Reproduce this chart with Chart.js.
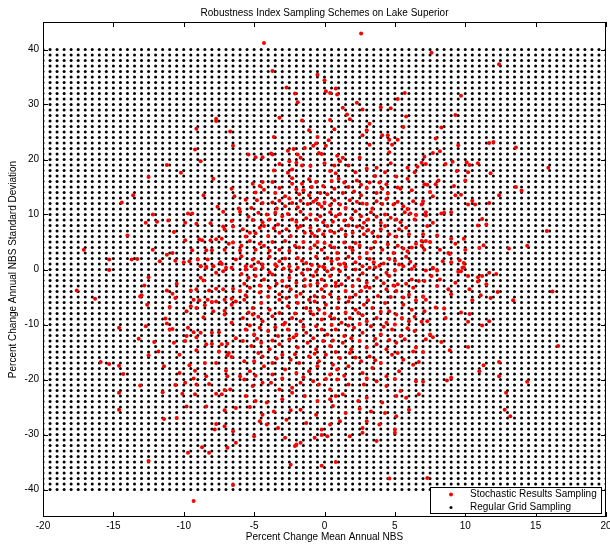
<!DOCTYPE html>
<html>
<head>
<meta charset="utf-8">
<title>Robustness Index Sampling Schemes on Lake Superior</title>
<script src="https://cdn.jsdelivr.net/npm/chart.js@4/dist/chart.umd.min.js"></script>
<style>
  html, body { margin: 0; padding: 0; background: #fff; }
  #plot { display: block; }
</style>
</head>
<body>
<canvas id="plot" width="610" height="544"></canvas>
<script>
/* ── DATOS ── */
const X_TICKS = [-20, -15, -10, -5, 0, 5, 10, 15, 20];
const Y_TICKS = [-40, -30, -20, -10, 0, 10, 20, 30, 40];

// regular grid sampling: columns every 0.5, rows every 1
const GRID_X = [
  -20, -19.5, -19, -18.5, -18, -17.5, -17, -16.5, -16, -15.5, -15, -14.5, -14, -13.5, -13, -12.5,
  -12, -11.5, -11, -10.5, -10, -9.5, -9, -8.5, -8, -7.5, -7, -6.5, -6, -5.5, -5, -4.5, -4, -3.5,
  -3, -2.5, -2, -1.5, -1, -0.5, 0, 0.5, 1, 1.5, 2, 2.5, 3, 3.5, 4, 4.5, 5, 5.5, 6, 6.5, 7, 7.5,
  8, 8.5, 9, 9.5, 10, 10.5, 11, 11.5, 12, 12.5, 13, 13.5, 14, 14.5, 15, 15.5, 16, 16.5, 17, 17.5,
  18, 18.5, 19, 19.5, 20
];
const GRID_Y = [
  -40, -39, -38, -37, -36, -35, -34, -33, -32, -31, -30, -29, -28, -27, -26, -25, -24, -23, -22, -21,
  -20, -19, -18, -17, -16, -15, -14, -13, -12, -11, -10, -9, -8, -7, -6, -5, -4, -3, -2, -1,
  0, 1, 2, 3, 4, 5, 6, 7, 8, 9, 10, 11, 12, 13, 14, 15, 16, 17, 18, 19,
  20, 21, 22, 23, 24, 25, 26, 27, 28, 29, 30, 31, 32, 33, 34, 35, 36, 37, 38, 39, 40
];

// stochastic results (x = % change mean annual NBS, y = % change std dev)
const STOCH_UPPER_LEFT = [
  [-7.7,27.4],[-7.7,27.0],[-9.1,25.6],[-9.2,21.8],[-8.8,19.7],[-11.2,19.0],
  [-10.2,17.6],[-12.5,16.8],[-7.9,16.5],[-13.6,13.5],[-8.6,13.5],[-14.4,12.2],
  [-7.6,11.4],[-6.1,11.1],[-12.2,10.0],[-9.7,10.2],[-9.4,10.2],[-7.2,10.5],[-12.7,8.5],
  [-11.9,8.7],[-11.1,8.9],[-9.9,8.5],[-9.1,8.3],[-8.1,8.4],[-7.2,7.8],[-7.1,7.3],[-6.5,7.8],
  [-10.7,6.8],[-14.0,6.2],[-9.9,5.3],[-8.9,5.5],[-8.7,5.3],[-8.1,5.3],[-7.7,5.5],[-7.3,5.6],
  [-6.8,4.7],[-17.1,3.6],[-12.2,3.6],[-10.8,3.0],[-11.2,2.7],[-9.4,3.5],[-8.4,3.5],
  [-8.0,3.5],[-7.1,3.6],[-15.3,1.8],[-13.7,1.8],[-13.3,1.9],[-11.7,1.5],[-10.6,1.6],
  [-10.0,1.3],[-9.6,1.5],[-9.0,1.8],[-8.3,1.8],[-7.4,1.3],[-7.3,1.0],[-8.8,0.6],
  [-8.4,0.5],[-7.9,0.6],[-7.0,0.3]
];
const STOCH_UPPER_MID = [
  [2.6,42.9],[-4.3,41.2],[-3.7,36.1],[-0.5,35.4],[0.0,34.4],[-2.7,33.1],[0.1,32.4],[0.4,32.1],
  [0.8,32.9],[0.9,31.8],[-2.1,32.0],[-1.9,30.4],[5.7,32.1],[5.2,31.0],[2.3,30.3],[2.7,29.1],
  [4.0,29.5],[4.7,29.3],[1.3,29.4],[1.6,28.2],[-3.2,27.6],[-1.6,27.1],[0.4,27.2],[1.8,27.3],
  [3.2,26.5],[5.8,27.8],[5.6,25.9],[0.7,25.5],[-1.1,25.3],[-6.7,25.1],[3.0,25.3],[2.7,24.4],
  [4.1,24.4],[4.5,24.4],[4.6,23.6],[5.2,23.6],[-3.6,24.1],[-0.5,24.1],[0.3,23.5],[-0.6,22.9],
  [-0.8,22.5],[0.1,22.5],[-6.5,22.5],[3.2,22.7],[4.8,22.7],[-2.2,21.9],[-1.4,22.1],[-2.6,21.6],
  [4.6,21.3],[-3.8,21.1],[-3.7,20.9],[-5.4,20.9],[-4.9,20.4],[-4.4,20.4],[-0.4,21.2],[-0.2,21.0],
  [-1.9,20.9],[-1.7,20.3],[0.9,20.7],[1.3,20.3],[-3.2,19.2],[-2.5,19.7],[-2.0,19.4],
  [-1.6,18.9],[-1.0,18.8],[0.0,19.3],[0.7,18.9],[1.1,19.7],[1.7,18.9],[2.5,20.3],[3.0,18.3],
  [3.7,18.5],[4.7,19.3],[5.9,18.5],[6.6,18.7],[-3.6,18.0],[-2.3,18.2],[-2.6,17.6],
  [0.4,17.9],[0.8,17.5],[2.2,17.7],[4.3,17.7],[6.4,17.7],[-2.3,16.6],[-2.3,15.6],[-1.6,15.6],
  [-5.1,15.6],[-4.4,15.9],[-3.7,15.9],[-1.1,16.4],[-0.6,15.9],[0.5,16.1],[1.0,16.5],[1.4,15.8],
  [2.3,16.2],[3.2,15.8],[3.6,17.0],[3.9,15.8],[5.1,16.9],[5.9,16.5],[-6.6,14.7],
  [-6.4,13.3],[-5.6,12.7],[-4.9,14.0],[-4.3,14.5],[-3.5,13.9],[-2.8,13.3],[-1.8,13.7],[-1.5,14.4],
  [-1.1,13.5],[-0.6,12.7],[-0.3,13.9],[0.2,13.7],[0.7,14.7],[1.3,13.9],[2.1,14.2],[2.6,13.5],
  [3.0,14.8],[3.7,13.9],[4.1,14.7],[4.5,13.8],[5.4,14.7],[6.2,14.4],[-4.4,12.1],
  [-3.7,12.2],[-3.2,12.5],[-2.8,11.5],[-2.3,12.1],[-1.7,12.5],[-1.2,11.9],[-0.4,11.9],[-0.2,11.4],
  [0.0,12.2],[0.4,11.7],[1.1,11.8],[1.8,12.6],[2.3,12.3],[3.0,11.9],[3.7,12.4],[4.1,11.9],
  [4.9,11.8],[5.6,11.5],[6.3,12.4],[-6.0,10.5],[-5.4,9.6],[-4.7,10.3],[-4.1,10.0],
  [-3.9,9.1],[-3.3,8.2],[-3.0,9.7],[-2.3,9.1],[-1.7,10.5],[-1.0,10.0],[-0.6,9.1],[-0.3,9.7],
  [0.4,10.4],[0.8,9.7],[1.4,8.9],[2.2,10.6],[2.6,9.7],[2.8,8.5],[3.3,10.4],[3.7,9.6],
  [4.3,10.0],[5.1,9.1],[5.7,10.4],[6.4,9.1],[6.5,9.9],[-6.6,8.8],[-5.8,7.3],
  [-5.3,6.7],[-4.6,7.6],[-4.0,6.1],[-3.2,6.7],[-2.7,7.3],[-1.9,7.6],[-1.4,6.7],[-1.0,7.6],
  [-0.7,6.1],[-0.4,7.2],[0.2,7.9],[0.7,6.7],[1.2,7.3],[1.7,8.0],[2.0,6.7],[2.7,7.6],
  [2.8,6.4],[3.4,6.7],[4.0,7.3],[4.6,6.4],[5.3,7.3],[6.0,6.4],
  [-6.5,4.9],[-5.9,4.3],[-5.3,5.2],[-4.9,3.6],[-4.3,4.3],[-3.7,5.0],[-3.2,3.6],[-2.8,5.2],
  [-2.1,4.3],[-1.5,5.0],[-1.0,3.8],[-0.5,5.0],[-0.2,3.6],[0.4,4.3],[0.9,3.0],[1.4,4.9],
  [2.0,3.5],[2.5,4.3],[3.0,3.0],[3.6,5.0],[4.1,3.6],[4.9,3.0],[5.2,4.3],[5.9,3.3],
  [6.5,4.7],[-6.3,1.8],[-5.6,0.6],[-5.1,1.8],[-4.4,0.9],[-3.9,2.3],[-3.2,1.5],
  [-2.5,0.6],[-1.9,2.1],[-1.3,1.2],[-0.6,2.3],[-0.1,0.5],[0.5,1.5],[1.1,0.9],[1.7,2.3],
  [2.2,1.3],[2.7,0.6],[3.2,1.9],[3.9,0.7],[4.6,1.9],[5.3,0.9],[5.8,2.3],[6.4,0.6]
];
const STOCH_UPPER_CORE = [
  [-5.9,2.4],[-4.7,1.3],[-3.5,0.9],[-2.8,2.0],[-1.6,1.6],[-0.9,0.8],[0.2,2.1],[0.9,1.9],
  [1.4,1.1],[2.5,2.2],[3.5,1.3],[4.2,1.1],[5.0,1.6],[6.1,1.4],
  [-6.0,3.5],[-4.6,4.7],[-3.9,3.4],[-2.5,3.4],[-1.8,4.0],[-0.7,4.4],[0.0,4.8],[0.7,4.0],
  [1.8,4.0],[2.2,4.8],[3.3,3.8],[4.5,4.6],[5.6,3.8],[6.2,4.0],
  [-5.6,6.0],[-4.9,6.6],[-4.3,7.9],[-3.6,7.5],[-2.4,6.1],[-1.7,7.9],[-0.9,6.6],[-0.1,6.4],
  [0.4,7.0],[1.5,6.3],[2.3,7.8],[3.1,7.2],[3.8,6.0],[4.3,7.9],[5.1,6.0],[5.8,7.6],
  [-5.1,9.0],[-4.4,8.6],[-3.5,10.3],[-2.6,10.1],[-2.0,8.7],[-1.3,9.3],[-0.1,8.6],[0.6,8.7],
  [1.1,10.1],[1.9,9.3],[3.1,9.1],[4.0,8.5],[4.7,9.4],[5.4,8.6],[6.1,10.2],
  [-5.2,11.2],[-4.8,12.6],[-3.4,11.1],[-2.5,12.9],[-1.9,11.3],[-0.8,12.3],[0.7,12.6],[1.5,11.2],
  [2.7,12.0],[3.4,11.1],[4.4,12.8],[5.2,12.3],[5.9,11.0],
  [-4.6,15.2],[-3.2,14.8],[-2.0,14.6],[-0.9,15.0],[-0.1,15.2],[1.7,15.0],[2.6,15.4],[4.4,15.5],[5.2,14.9]
];
const STOCH_UPPER_RIGHT = [
  [7.6,39.4],[12.4,37.3],[9.7,31.6],[9.3,28.1],[8.3,25.8],[7.9,23.8],[9.5,22.6],[11.7,23.0],
  [12.0,23.2],[13.6,22.2],[7.7,21.2],[8.2,21.5],[7.1,20.5],[6.9,19.4],[7.2,19.2],[8.6,19.2],
  [9.1,19.6],[10.1,19.5],[10.3,19.0],[10.9,19.3],[15.9,18.5],[9.4,17.9],[10.2,17.7],[11.8,17.5],
  [8.1,16.2],[10.0,16.2],[7.1,15.5],[7.3,15.4],[7.9,15.5],[9.2,15.2],[13.6,15.0],[14.0,14.3],
  [7.5,14.1],[9.3,13.5],[9.7,13.6],[12.4,13.5],[7.7,13.3],[7.0,12.4],[6.9,11.8],[10.5,12.5],
  [10.2,11.8],[10.7,11.8],[11.7,12.1],[7.2,10.4],[7.2,9.8],[8.3,10.2],[8.5,10.3],[9.0,10.4],
  [11.2,9.2],[11.5,8.2],[10.9,8.0],[7.7,8.5],[7.3,7.9],[15.8,7.0],[7.0,6.4],[8.0,6.2],
  [9.0,5.6],[9.9,5.6],[6.9,5.2],[7.2,5.2],[7.5,5.0],[9.3,4.7],[11.3,4.4],[11.0,3.9],
  [10.0,3.6],[13.1,3.8],[14.4,4.3],[7.1,3.6],[6.9,4.3],[8.2,3.6],[8.8,3.0],[8.9,2.8],
  [8.4,1.5],[9.0,1.3],[9.6,1.7],[9.9,1.2],[7.7,0.3],[9.8,0.3]
];
const STOCH_LOWER_LEFT = [
  [-15.3,-0.1],[-12.5,-1.4],[-17.6,-3.8],[-12.8,-2.9],[-13.1,-4.9],[-13.0,-4.7],[-16.3,-5.3],[-12.6,-6.4],
  [-11.2,-3.8],[-10.5,-2.6],[-10.8,-4.4],[-10.6,-5.2],[-11.0,-6.8],[-9.5,-3.8],[-9.1,-3.6],[-8.8,-1.5],
  [-8.6,-2.0],[-8.4,0.3],[-8.8,0.6],[-7.9,0.6],[-7.2,-0.3],[-6.6,0.3],[-7.7,-0.6],[-8.2,-3.8],
  [-7.7,-3.5],[-7.2,-3.6],[-6.5,-3.5],[-9.3,-5.5],[-8.9,-5.6],[-8.3,-5.5],[-8.0,-5.9],[-7.7,-5.8],
  [-7.1,-5.5],[-6.6,-5.3],[-9.5,-6.7],[-9.1,-7.0],[-8.5,-6.5],[-7.9,-7.6],[-7.1,-7.5],[-6.6,-6.4],
  [-6.3,-5.8],[-9.8,-7.6],[-8.6,-8.7],[-7.1,-8.2],[-11.3,-8.9],[-11.2,-9.8],[-12.7,-10.3],[-14.6,-10.6],
  [-11.0,-10.9],[-10.8,-10.8],[-9.7,-10.6],[-9.3,-11.4],[-8.8,-11.5],[-8.0,-11.5],[-7.5,-11.4],[-6.6,-9.7],
  [-9.8,-12.1],[-9.9,-13.0],[-9.1,-12.3],[-8.4,-13.6],[-8.0,-13.5],[-7.3,-13.6],[-6.9,-13.5],[-6.3,-12.5],
  [-13.2,-12.6],[-12.1,-13.2],[-10.7,-13.3],[-11.8,-14.9],[-12.5,-15.6],[-10.3,-15.5],[-9.1,-14.7],[-7.5,-14.9],
  [-6.8,-15.2],[-6.9,-15.6],[-6.6,-15.9],[-8.5,-17.0],[-7.7,-17.0],[-9.6,-17.4],[-10.3,-18.8],[-11.4,-17.6],
  [-15.9,-16.8],[-15.3,-17.2],[-14.6,-17.5],[-14.3,-19.0],[-9.2,-18.4],[-8.4,-19.4],[-7.0,-18.4],[-6.9,-19.4],
  [-9.3,-19.8],[-9.9,-20.6],[-9.1,-20.9],[-8.2,-20.8],[-7.7,-22.6],[-7.3,-22.7],[-7.1,-21.9],[-6.7,-21.8],
  [-10.1,-22.6],[-9.2,-22.7],[-11.5,-22.3],[-10.6,-21.0],[-13.1,-21.1],[-14.6,-22.4],[-14.6,-25.5],[-9.8,-24.9],
  [-8.4,-24.9],[-7.1,-25.6],[-6.3,-25.2],[-11.4,-27.2],[-10.5,-27.0],[-7.7,-28.1],[-7.8,-29.1],[-7.1,-28.5],
  [-6.5,-29.4],[-6.3,-31.5],[-8.7,-32.3],[-9.7,-33.3],[-8.2,-33.3],[-6.9,-32.4],[-12.5,-34.8],[-6.5,-39.2],
  [-9.3,-42.1]
];
const STOCH_LOWER_MID = [
  [-5.6,0.0],[-5.2,0.6],[-4.4,0.3],[-3.4,0.6],[-2.4,-0.3],[-1.9,0.3],[-1.2,0.0],
  [-0.4,0.6],[0.0,0.3],[0.2,-0.3],[1.1,-0.3],[2.2,0.0],[3.2,0.3],[4.4,-0.6],[5.6,0.6],
  [-5.4,-1.5],[-4.9,-1.2],[-4.3,-1.8],[-3.7,-0.9],[-3.0,-2.1],[-2.5,-1.5],[-2.0,-2.4],
  [-1.4,-1.8],[-0.8,-1.2],[-0.2,-1.8],[0.4,-1.2],[0.8,-2.4],[1.7,-1.5],[2.4,-1.8],[3.0,-2.4],
  [3.7,-1.5],[4.6,-1.2],[5.2,-2.7],[6.2,-1.8],[6.7,-2.1],
  [-6.0,-3.9],[-5.3,-3.3],[-4.6,-4.2],[-3.9,-3.3],[-3.2,-4.5],[-2.4,-3.6],[-2.0,-4.8],
  [-1.4,-3.0],[-0.7,-4.8],[-0.2,-3.6],[0.4,-4.5],[0.8,-3.0],[1.5,-3.9],[1.8,-5.1],[2.6,-3.9],
  [3.2,-3.3],[3.8,-4.8],[4.4,-3.6],[5.1,-3.9],[5.6,-5.1],[6.3,-3.3],
  [-5.7,-5.5],[-5.1,-7.0],[-4.5,-6.1],[-3.9,-7.3],[-3.2,-5.5],[-2.6,-6.7],
  [-1.9,-6.1],[-1.3,-7.0],[-0.7,-5.8],[-0.4,-7.3],[0.1,-6.4],[0.9,-7.0],[1.7,-5.8],[2.2,-7.3],
  [2.8,-6.4],[3.4,-7.0],[4.3,-6.1],[4.6,-7.6],[5.6,-6.4],[6.2,-7.3],
  [-5.8,-8.8],[-5.1,-8.2],[-4.4,-9.4],[-3.7,-8.5],[-2.8,-9.7],[-2.3,-8.8],[-1.7,-9.4],
  [-0.8,-8.2],[-0.2,-9.1],[0.4,-8.5],[1.2,-9.7],[1.8,-8.8],[2.4,-7.9],[3.0,-9.4],[3.7,-8.8],
  [4.4,-9.7],[5.1,-8.2],[6.0,-9.4],
  [-5.6,-10.9],[-5.0,-11.8],[-4.6,-10.6],[-4.0,-11.2],[-3.3,-12.1],[-2.6,-10.9],[-2.0,-11.8],
  [-1.3,-11.5],[-0.6,-10.3],[0.2,-11.8],[0.8,-10.9],[1.4,-12.1],[2.1,-10.6],[2.7,-11.5],[3.3,-10.3],
  [4.0,-11.8],[4.8,-10.9],[5.4,-12.1],[6.4,-11.2],
  [-5.8,-13.0],[-5.2,-13.9],[-4.5,-13.3],[-3.9,-14.5],[-3.2,-13.6],[-2.5,-12.7],[-1.9,-14.2],
  [-1.2,-13.3],[-0.6,-14.5],[-0.1,-13.0],[0.4,-13.9],[1.3,-13.3],[1.9,-14.5],[2.5,-13.0],[3.0,-14.2],
  [3.7,-13.6],[4.4,-14.5],[5.1,-13.3],[5.7,-12.7],[6.5,-14.2],
  [-5.7,-16.7],[-5.0,-16.7],[-4.4,-15.8],[-3.7,-17.0],[-3.0,-15.5],[-2.4,-16.4],[-1.8,-17.0],
  [-1.1,-15.8],[-0.4,-16.7],[0.1,-15.5],[0.6,-17.3],[1.1,-16.1],[1.8,-15.2],[2.6,-16.7],[3.2,-15.8],
  [4.0,-17.0],[4.8,-15.5],[5.6,-16.4],[6.3,-14.9],
  [-6.0,-19.4],[-5.3,-18.5],[-4.3,-17.6],[-3.7,-19.1],[-2.8,-18.2],[-2.0,-18.8],[-1.1,-18.5],[-0.5,-17.6],
  [0.4,-19.1],[0.9,-18.2],[1.7,-17.6],[2.7,-18.8],[3.4,-17.9],[4.4,-19.4],[5.3,-18.5],[6.3,-17.3],
  [-5.7,-20.0],[-5.1,-21.2],[-4.4,-20.6],[-3.8,-20.6],[-3.2,-21.8],[-2.3,-21.5],[-1.7,-20.6],
  [-0.8,-20.3],[-0.4,-20.9],[0.4,-21.8],[0.9,-20.0],[1.7,-20.9],[2.8,-20.9],[3.7,-20.3],[4.4,-21.2],
  [5.4,-22.1],[6.5,-20.3],
  [-5.6,-23.0],[-4.9,-23.9],[-4.1,-24.2],[-3.0,-23.6],[-2.3,-22.4],[-1.4,-23.0],[-0.5,-23.9],[0.4,-23.6],
  [0.8,-23.0],[1.3,-22.7],[2.4,-23.9],[3.0,-23.3],[4.1,-24.2],[5.1,-23.0],[5.8,-23.3],[6.7,-22.7],
  [-5.3,-25.0],[-4.4,-26.4],[-3.6,-25.8],[-2.4,-25.6],[-1.7,-25.5],[-0.6,-26.4],[0.6,-24.8],
  [1.5,-26.1],[2.5,-25.3],[3.3,-25.8],[4.3,-26.1],[5.1,-26.7],[6.0,-25.5],
  [-4.6,-27.6],[-4.1,-28.2],[-3.3,-28.8],[-2.7,-27.3],[-1.3,-27.9],[-0.2,-29.1],[0.4,-28.2],[1.1,-27.6],
  [2.7,-28.8],[3.0,-27.6],[3.9,-28.2],[5.0,-29.1],
  [-5.0,-30.3],[-2.8,-30.6],[-2.0,-31.8],[-1.7,-31.5],[-0.7,-30.6],[-0.2,-30.1],
  [0.2,-30.3],[1.8,-30.3],[2.7,-29.7],[3.7,-31.2],[5.0,-29.7],
  [-2.1,-32.1],[-2.4,-35.5],[-0.2,-35.7],[0.8,-35.0],[4.6,-38.0],[7.3,-37.9]
];
const STOCH_LOWER_CORE = [
  [-5.9,-0.8],[-4.9,0.1],[-3.9,-0.5],[-2.9,0.2],[-1.6,-0.7],[-0.6,-0.4],[0.6,0.2],[1.5,0.5],
  [2.7,-0.7],[3.6,0.4],[5.0,-0.2],[6.2,0.1],
  [-5.7,-2.6],[-4.6,-2.9],[-3.4,-2.6],[-2.7,-3.1],[-1.0,-2.8],[-0.5,-2.5],[0.1,-2.9],[1.2,-2.7],
  [2.0,-3.0],[2.9,-3.2],[4.2,-2.5],[4.9,-2.9],[5.8,-2.6],
  [-5.6,-4.7],[-4.0,-4.9],[-2.7,-5.2],[-1.7,-4.4],[-1.1,-5.5],[-0.1,-5.0],[1.0,-5.3],[2.2,-4.6],
  [3.1,-5.6],[4.7,-5.0],[6.0,-4.6],[6.5,-5.6],
  [-5.4,-7.8],[-4.7,-8.6],[-3.2,-7.9],[-2.1,-8.0],[-1.0,-7.6],[0.0,-8.0],[0.7,-8.9],[1.5,-7.8],
  [2.7,-8.3],[4.0,-7.7],[5.5,-8.8],[6.4,-8.6],
  [-5.3,-10.2],[-3.5,-10.5],[-2.9,-10.0],[-1.5,-10.4],[-0.2,-10.9],[0.5,-10.1],[1.7,-10.2],[2.5,-9.9],
  [4.2,-10.4],[5.0,-10.0],[5.9,-10.7],
  [-4.8,-12.6],[-3.7,-12.9],[-2.2,-12.3],[-0.8,-12.5],[0.6,-12.9],[1.9,-12.5],[3.6,-12.6],[4.6,-12.8],
  [-4.7,-15.2],[-3.4,-16.2],[-2.1,-15.4],[-0.7,-15.3],[0.8,-15.0],[2.2,-16.0],[3.6,-16.5],[5.2,-15.2],
  [-4.9,-19.3],[-3.0,-19.8],[-1.5,-19.6],[0.1,-19.9],[1.4,-19.3],[3.0,-19.8],[5.0,-19.9]
];
const STOCH_LOWER_RIGHT = [
  [7.2,-0.2],[7.7,0.2],[8.0,-0.2],[7.1,-2.1],[7.6,-1.2],[8.2,-1.8],[8.0,-3.0],[9.5,-0.4],
  [9.7,-0.3],[9.9,0.4],[10.2,-1.2],[10.9,-1.4],[11.2,-1.2],[11.7,-0.6],[12.2,-0.8],[9.3,-2.4],
  [10.9,-2.2],[11.5,-2.7],[8.8,-3.6],[9.0,-4.5],[10.3,-3.6],[12.3,-4.1],[16.2,-4.0],[7.0,-4.9],
  [7.2,-5.5],[10.5,-5.6],[11.1,-4.7],[11.8,-5.2],[13.4,-5.6],[7.9,-6.9],[8.5,-7.1],[8.6,-8.8],
  [7.1,-7.6],[9.7,-7.8],[10.3,-8.1],[6.9,-9.5],[7.3,-9.4],[10.2,-9.5],[11.2,-10.2],[11.7,-9.4],
  [7.5,-11.8],[7.7,-12.3],[7.2,-12.7],[8.3,-13.2],[10.2,-14.1],[16.6,-13.9],[7.0,-15.0],[8.9,-14.7],
  [6.7,-16.8],[12.4,-16.8],[11.3,-17.4],[11.0,-18.5],[12.4,-19.4],[9.0,-19.7],[8.7,-20.2],[7.0,-20.4],
  [14.4,-20.4],[12.9,-22.4],[12.8,-25.5],[13.2,-26.7]
];

const STOCH_LABEL = 'Stochastic Results Sampling';
const GRID_LABEL  = 'Regular Grid Sampling';

/* ── PUNTOS ── */
const gridPts = [];
GRID_Y.forEach(y => GRID_X.forEach(x => gridPts.push({ x, y })));

const stochPts = [
  ...STOCH_UPPER_LEFT, ...STOCH_UPPER_MID, ...STOCH_UPPER_CORE, ...STOCH_UPPER_RIGHT,
  ...STOCH_LOWER_LEFT, ...STOCH_LOWER_MID, ...STOCH_LOWER_CORE, ...STOCH_LOWER_RIGHT
].map(([x, y]) => ({ x, y }));

/* ── MARCO ESTILO MATLAB + LEYENDA ── */
const FONT = "'Liberation Sans', Arial, sans-serif";

const matlabBox = {
  id: 'matlabBox',
  afterDraw(chart) {
    const { ctx, chartArea: a, scales: { x, y } } = chart;
    const tk = 5;
    ctx.save();
    ctx.strokeStyle = '#000';
    ctx.lineWidth = 1;
    ctx.strokeRect(a.left + 0.5, a.top + 0.5, a.width - 1, a.height - 1);

    ctx.beginPath();
    X_TICKS.forEach(v => {
      const px = Math.round(x.getPixelForValue(v)) + 0.5;
      ctx.moveTo(px, a.top);    ctx.lineTo(px, a.top + tk);
      ctx.moveTo(px, a.bottom); ctx.lineTo(px, a.bottom - tk);
    });
    Y_TICKS.forEach(v => {
      const py = Math.round(y.getPixelForValue(v)) + 0.5;
      ctx.moveTo(a.left, py);  ctx.lineTo(a.left + tk, py);
      ctx.moveTo(a.right, py); ctx.lineTo(a.right - tk, py);
    });
    ctx.stroke();

    // legend box, bottom right inside the axes
    const bw = 172, bh = 27;
    const bx = a.right - 4 - bw, by = a.bottom - 3 - bh;
    ctx.fillStyle = '#fff';
    ctx.fillRect(bx, by, bw, bh);
    ctx.strokeRect(bx + 0.5, by + 0.5, bw - 1, bh - 1);

    const items = [
      { label: STOCH_LABEL, color: '#ff0000', r: 2.0 },
      { label: GRID_LABEL,  color: '#000000', r: 1.5 }
    ];
    ctx.font = `10px ${FONT}`;
    ctx.textBaseline = 'middle';
    items.forEach((it, i) => {
      const cy = by + 7.5 + i * 13;
      ctx.fillStyle = it.color;
      ctx.beginPath();
      ctx.arc(bx + 21, cy, it.r, 0, Math.PI * 2);
      ctx.fill();
      ctx.fillStyle = '#000';
      ctx.fillText(it.label, bx + 40, cy);
    });
    ctx.restore();
  }
};

/* ── GRÁFICO ── */
Chart.defaults.font.family = FONT;
Chart.defaults.color = '#000';

new Chart(document.getElementById('plot').getContext('2d'), {
  type: 'scatter',
  data: {
    datasets: [
      { label: STOCH_LABEL, data: stochPts, backgroundColor: '#ff0000', borderWidth: 0, pointRadius: 2.0 },
      { label: GRID_LABEL,  data: gridPts,  backgroundColor: '#000000', borderWidth: 0, pointRadius: 1.5 }
    ]
  },
  options: {
    responsive: false,
    animation: false,
    devicePixelRatio: 1,
    layout: { padding: { top: 0, right: 3, bottom: 0, left: 0 } },
    plugins: {
      legend: { display: false },
      tooltip: { enabled: false },
      title: {
        display: true,
        text: 'Robustness Index Sampling Schemes on Lake Superior',
        fullSize: false,
        font: { size: 10, weight: 'normal' },
        padding: { top: 7, bottom: 3 }
      }
    },
    scales: {
      x: {
        type: 'linear', min: -20, max: 20,
        afterBuildTicks: s => { s.ticks = X_TICKS.map(v => ({ value: v })); },
        afterFit: s => { s.height = 27; s.paddingLeft = 0; s.paddingRight = 0; },
        grid: { display: false, drawTicks: false },
        border: { display: false },
        ticks: { font: { size: 10 }, padding: 3, maxRotation: 0 },
        title: { display: true, text: 'Percent Change Mean Annual NBS', font: { size: 10 }, padding: { top: 0, bottom: 1 } }
      },
      y: {
        type: 'linear', min: -45, max: 45,
        afterBuildTicks: s => { s.ticks = Y_TICKS.map(v => ({ value: v })); },
        afterFit: s => { s.width = 43; s.paddingTop = 0; s.paddingBottom = 0; },
        grid: { display: false, drawTicks: false },
        border: { display: false },
        ticks: { font: { size: 10 }, padding: 4 },
        title: { display: true, text: 'Percent Change Annual NBS Standard Deviation', font: { size: 10 }, padding: { top: 7, bottom: 0 } }
      }
    }
  },
  plugins: [matlabBox]
});
</script>
</body>
</html>
